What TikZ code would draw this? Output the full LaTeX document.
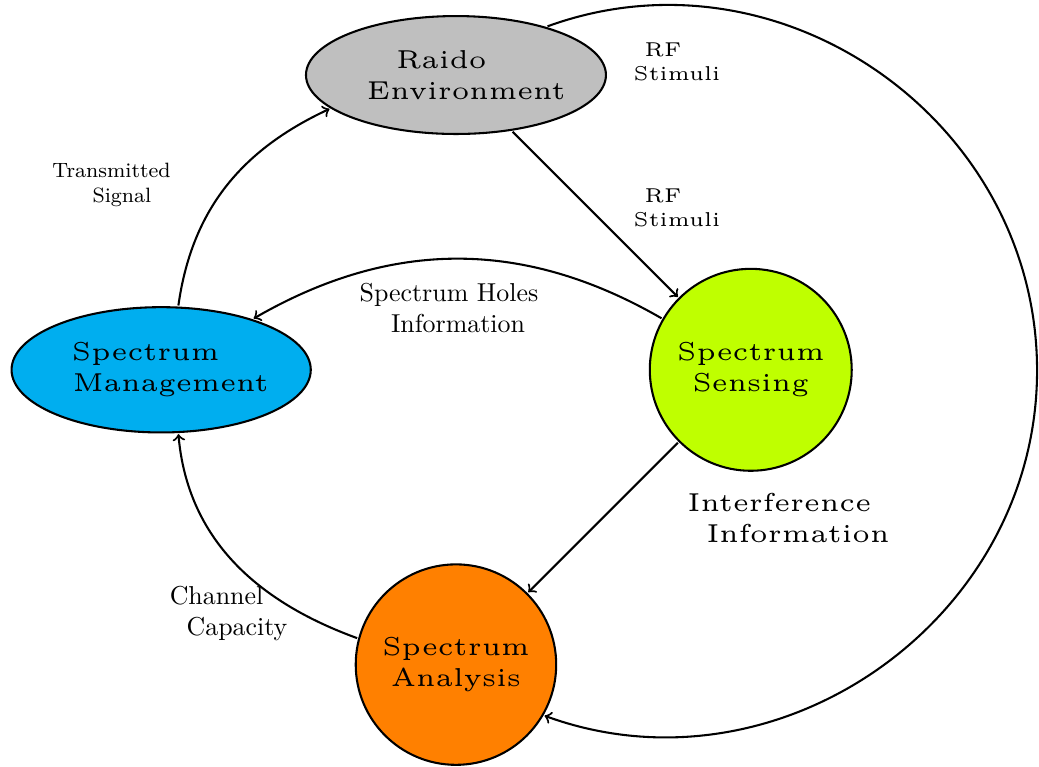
\documentclass[tikz,border=0pt]{standalone}
\usepackage{amssymb}
\usepackage{amsmath}
\usepackage{tikz}
\usetikzlibrary{shapes.geometric}

\definecolor{mgmtblue}{RGB}{0,174,239}

\begin{document}
\begin{tikzpicture}[thick,
	blob/.style={draw,inner sep=0pt,font=\tiny,align=center,scale=2},
	oval/.style={blob,ellipse,inner xsep=-1pt},
	disc/.style={blob,circle},
	tag/.style={align=center}]
	\useasboundingbox (-6.187,1.018) rectangle (7.911,-9.376);

	%NODES
	\node[oval,fill=gray!50,minimum width=2.035cm,minimum height=0.8cm] (raido) at (0,0)
		{\hspace*{-5.6pt}Raido\\\hspace*{4pt}Environment};
	\node[oval,fill=mgmtblue,minimum width=2.03cm,minimum height=0.85cm] (mgmt) at (-4,-4)
		{\hspace*{-6pt}Spectrum\\\hspace*{3.7pt}Management};
	\node[disc,fill=lime,minimum size=1.37cm] (sensing) at (4,-4) {Spectrum\\Sensing};
	\node[disc,fill=orange,minimum size=1.36cm] (analysis) at (0,-8) {Spectrum\\Analysis};
	\coordinate (loopright) at (7.885,-4.01);				%right end of the big loop

	%ARROWS
	\draw[->] (mgmt.75) to[out=82,in=205] (raido.195);			%transmitted signal
	\draw[->] (raido) -- (sensing);						%rf stimuli, straight
	\draw[->] (raido.28) to[out=20,in=90,distance=3.38cm] (loopright)
		to[out=-90,in=-20,distance=3.38cm] (analysis.-30);		%rf stimuli, big loop
	\draw[->] (sensing.150) to[out=150,in=30] (mgmt.29);			%spectrum holes
	\draw[->] (sensing) -- (analysis);					%interference
	\draw[->] (analysis.165) to[out=160,in=-85] (mgmt.-75);		%channel capacity

	%LABELS
	\node[tag,font=\footnotesize] (ltrans) at (-4.603,-1.492) {\hspace*{-4pt}Transmitted\\\hspace*{4pt}Signal};
	\node[tag,font=\tiny,scale=1.55] (lrfloop) at (2.904,0.177) {\hspace*{-3.5pt}RF\\\hspace*{3.5pt}Stimuli};
	\node[tag,font=\tiny,scale=1.55] (lrfline) at (2.904,-1.804) {\hspace*{-3.5pt}RF\\\hspace*{3.5pt}Stimuli};
	\node[tag] (lholes) at (-0.034,-3.161) {\hspace*{-3.5pt}Spectrum Holes\\\hspace*{3.5pt}Information};
	\node[tag,font=\tiny,scale=2] (linterf) at (4.515,-6.017) {\hspace*{-3.6pt}Interference\\\hspace*{3.6pt}Information};
	\node[tag] (lchannel) at (-3.110,-7.306) {\hspace*{-7.9pt}Channel\\\hspace*{7.9pt}Capacity};

%	\draw[help lines] (-6,-9) grid (7,1);
\end{tikzpicture}
\end{document}
